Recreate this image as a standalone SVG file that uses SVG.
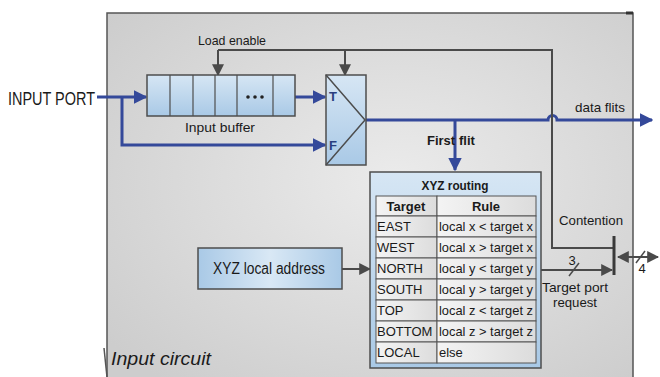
<svg xmlns="http://www.w3.org/2000/svg" width="660" height="377" viewBox="0 0 660 377">
<defs>
<radialGradient id="bg" cx="0.55" cy="0.45" r="0.7">
<stop offset="0" stop-color="#ebebeb"/>
<stop offset="1" stop-color="#cdcdcd"/>
</radialGradient>
<linearGradient id="blue" x1="0" y1="0" x2="0" y2="1">
<stop offset="0" stop-color="#d6e6f4"/>
<stop offset="1" stop-color="#a9c9e6"/>
</linearGradient>
<linearGradient id="blueh" x1="0" y1="0" x2="1" y2="0">
<stop offset="0" stop-color="#a9c9e6"/>
<stop offset="0.5" stop-color="#d9e8f5"/>
<stop offset="1" stop-color="#a9c9e6"/>
</linearGradient>
<linearGradient id="cell" x1="0" y1="0" x2="1" y2="0">
<stop offset="0" stop-color="#f4f4f4"/>
<stop offset="1" stop-color="#dcdcdc"/>
</linearGradient>
<marker id="ab" viewBox="0 0 10 10" refX="9" refY="5" markerWidth="4.5" markerHeight="4.5" orient="auto" markerUnits="strokeWidth">
<path d="M0,0 L10,5 L0,10 z" fill="#34499a"/>
</marker>
<marker id="ag" viewBox="0 0 10 10" refX="9" refY="5" markerWidth="6" markerHeight="6" orient="auto" markerUnits="strokeWidth">
<path d="M0,0 L10,5 L0,10 z" fill="#4a4a4a"/>
</marker>
<marker id="ags" viewBox="0 0 10 10" refX="1" refY="5" markerWidth="6" markerHeight="6" orient="auto" markerUnits="strokeWidth">
<path d="M10,0 L0,5 L10,10 z" fill="#4a4a4a"/>
</marker>
</defs>
<style>
text{font-family:"Liberation Sans Narrow","Liberation Sans",Arial,sans-serif;fill:#1a1a1a}
.data{fill:none;stroke:#34499a;stroke-width:3}
.ctl{fill:none;stroke:#4a4a4a;stroke-width:2}
.box{stroke:#4d4d4d;stroke-width:1.5}
.cell{fill:url(#cell);stroke:#555;stroke-width:1}
.t13{font-size:13px}
.b{font-weight:bold}
</style>
<rect width="660" height="377" fill="#fff"/>
<g id="input-circuit">
<rect x="107" y="13" width="526" height="370" fill="url(#bg)" stroke="#555" stroke-width="1.5"/>
<line x1="626" y1="13" x2="633" y2="13" stroke="#333" stroke-width="3"/>
<line x1="104" y1="348" x2="107" y2="377" stroke="#555" stroke-width="1.5"/>
<text x="111" y="365" font-size="18" font-style="italic" textLength="100" lengthAdjust="spacingAndGlyphs">Input circuit</text>
</g>
<g id="connectors">
<line class="data" x1="97" y1="97" x2="146" y2="97" marker-end="url(#ab)"/>
<polyline class="data" points="122,97 122,145 325,145" marker-end="url(#ab)"/>
<line class="data" x1="295" y1="97" x2="325" y2="97" marker-end="url(#ab)"/>
<path class="data" d="M366,120 L548,120 A4.5,4.5 0 0 1 557,120 L652,120" marker-end="url(#ab)"/>
<line class="data" x1="455" y1="120" x2="455" y2="170" marker-end="url(#ab)"/>
<polyline class="ctl" points="218,50 218,75" marker-end="url(#ag)"/>
<polyline class="ctl" points="218,50 552,50 552,248 613,248"/>
<line class="ctl" x1="345" y1="50" x2="345" y2="75" marker-end="url(#ag)"/>
<line class="ctl" x1="342" y1="269" x2="370" y2="269" marker-end="url(#ag)"/>
<line class="ctl" x1="541" y1="270" x2="612" y2="270" marker-end="url(#ag)"/>
<line x1="569" y1="276" x2="579" y2="263" stroke="#4a4a4a" stroke-width="1.5"/>
<line x1="614" y1="236" x2="614" y2="275" stroke="#3a3a3a" stroke-width="3"/>
<line class="ctl" x1="618" y1="257" x2="658" y2="257" marker-start="url(#ags)" marker-end="url(#ag)"/>
<line x1="636" y1="263" x2="645" y2="251" stroke="#4a4a4a" stroke-width="1.5"/>
<text x="572" y="265" class="t13" text-anchor="middle">3</text>
<text x="642" y="273" class="t13" text-anchor="middle">4</text>
</g>
<g id="input-port">
<text x="8" y="105" font-size="18" textLength="87" lengthAdjust="spacingAndGlyphs">INPUT PORT</text>
</g>
<g id="input-buffer">
<rect x="147" y="75" width="148" height="41" fill="url(#blue)" class="box"/>
<g stroke="#4d4d4d" stroke-width="1.2">
<line x1="170" y1="75" x2="170" y2="116"/>
<line x1="193" y1="75" x2="193" y2="116"/>
<line x1="215" y1="75" x2="215" y2="116"/>
<line x1="237" y1="75" x2="237" y2="116"/>
<line x1="273" y1="75" x2="273" y2="116"/>
</g>
<g fill="#222"><circle cx="248" cy="97" r="1.8"/><circle cx="255" cy="97" r="1.8"/><circle cx="262" cy="97" r="1.8"/></g>
<text x="220" y="132" class="t13" text-anchor="middle" textLength="70" lengthAdjust="spacingAndGlyphs">Input buffer</text>
<text x="232" y="45" class="t13" text-anchor="middle" textLength="68" lengthAdjust="spacingAndGlyphs">Load enable</text>
</g>
<g id="mux">
<rect x="326" y="75" width="40" height="90" fill="url(#blue)" class="box"/>
<polyline points="326,75 365,120 326,165" fill="none" stroke="#4d4d4d" stroke-width="1.5"/>
<text x="329" y="101" class="t13 b" style="fill:#2a3f80">T</text>
<text x="329" y="150" class="t13 b" style="fill:#2a3f80">F</text>
</g>
<g id="labels">
<text class="t13" y="112" x="575" textLength="50" lengthAdjust="spacingAndGlyphs">data flits</text>
<text class="t13 b"><tspan x="427" y="145">First</tspan><tspan x="459" y="145">flit</tspan></text>
<text class="t13" x="591" y="225" text-anchor="middle" textLength="64" lengthAdjust="spacingAndGlyphs">Contention</text>
<text class="t13" x="575" y="292" text-anchor="middle" textLength="66" lengthAdjust="spacingAndGlyphs">Target port</text>
<text class="t13" x="575" y="307" text-anchor="middle" textLength="44" lengthAdjust="spacingAndGlyphs">request</text>
</g>
<g id="xyz-local-address">
<rect x="198" y="248" width="144" height="41" fill="url(#blueh)" class="box"/>
<text x="269" y="274" font-size="16" text-anchor="middle" textLength="112" lengthAdjust="spacingAndGlyphs">XYZ local address</text>
</g>
<g id="xyz-routing">
<rect x="370" y="172" width="171" height="196" fill="url(#blue)" class="box"/>
<text x="455" y="190" class="t13 b" text-anchor="middle" textLength="67" lengthAdjust="spacingAndGlyphs">XYZ routing</text>
<g>
<rect class="cell" x="376" y="196" width="61" height="20"/><rect class="cell" x="437" y="196" width="99" height="20"/>
<rect class="cell" x="376" y="216" width="61" height="21"/><rect class="cell" x="437" y="216" width="99" height="21"/>
<rect class="cell" x="376" y="237" width="61" height="21"/><rect class="cell" x="437" y="237" width="99" height="21"/>
<rect class="cell" x="376" y="258" width="61" height="21"/><rect class="cell" x="437" y="258" width="99" height="21"/>
<rect class="cell" x="376" y="279" width="61" height="21"/><rect class="cell" x="437" y="279" width="99" height="21"/>
<rect class="cell" x="376" y="300" width="61" height="21"/><rect class="cell" x="437" y="300" width="99" height="21"/>
<rect class="cell" x="376" y="321" width="61" height="21"/><rect class="cell" x="437" y="321" width="99" height="21"/>
<rect class="cell" x="376" y="342" width="61" height="21"/><rect class="cell" x="437" y="342" width="99" height="21"/>
</g>
<text x="406" y="211" class="t13 b" text-anchor="middle">Target</text>
<text x="486" y="211" class="t13 b" text-anchor="middle">Rule</text>
<g class="t13">
<text x="377" y="231">EAST</text><text x="439" y="231" textLength="94" lengthAdjust="spacingAndGlyphs">local x &lt; target x</text>
<text x="377" y="252">WEST</text><text x="439" y="252" textLength="94" lengthAdjust="spacingAndGlyphs">local x &gt; target x</text>
<text x="377" y="273">NORTH</text><text x="439" y="273" textLength="94" lengthAdjust="spacingAndGlyphs">local y &lt; target y</text>
<text x="377" y="294">SOUTH</text><text x="439" y="294" textLength="94" lengthAdjust="spacingAndGlyphs">local y &gt; target y</text>
<text x="377" y="315">TOP</text><text x="439" y="315" textLength="94" lengthAdjust="spacingAndGlyphs">local z &lt; target z</text>
<text x="377" y="336">BOTTOM</text><text x="439" y="336" textLength="94" lengthAdjust="spacingAndGlyphs">local z &gt; target z</text>
<text x="377" y="357">LOCAL</text><text x="439" y="357">else</text>
</g>
</g>
</svg>
